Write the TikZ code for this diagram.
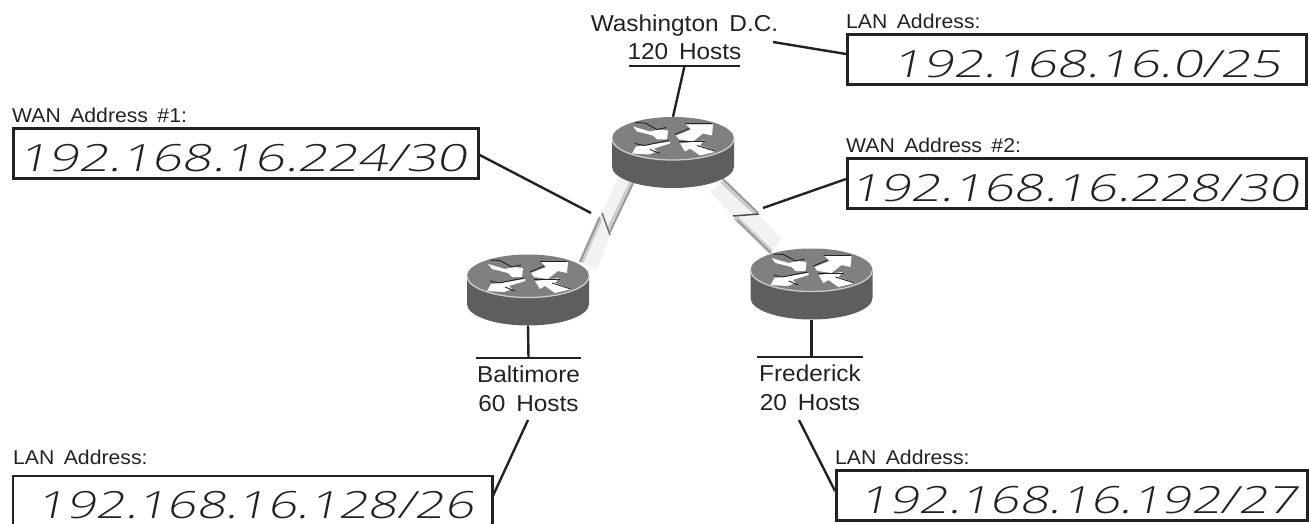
\documentclass[tikz,border=0pt]{standalone}
\usepackage{fontspec}
\usepackage{xcolor}
\usepackage{tikz}
\usetikzlibrary{positioning}
\setmainfont{Liberation Sans}
\newfontfamily\tagfont[FakeStretch=1.06,WordSpace=1.6]{Liberation Sans}
\newfontfamily\addrfont[FakeStretch=1.41,FakeSlant=0.2]{Open Sans Light}
\newfontfamily\addrnarrow[FakeStretch=1.375,FakeSlant=0.2]{Open Sans Light}
\definecolor{inkline}{HTML}{222222}
\definecolor{routertop}{HTML}{808080}
\definecolor{routerside}{HTML}{5E5E5E}
\definecolor{routerrim}{HTML}{CCCCCC}

\tikzset{
  wire/.style={line width=2.4pt, color=inkline},
  frame/.style={line width=2.7pt, color=inkline},
  router/.style={minimum width=122pt, minimum height=71pt, inner sep=0pt},
  addrtext/.style={anchor=north west, inner sep=0pt, text height=37pt, text depth=0pt, text=inkline},
  addrbox/.style={addrtext, draw=inkline, line width=2.7pt, minimum height=50pt,
    font=\addrfont\fontsize{37.5pt}{40pt}\selectfont},
  tag/.style={inner sep=0pt, text depth=0pt, text=inkline, font=\tagfont\fontsize{20pt}{24pt}\selectfont},
  site/.style={inner sep=0pt, align=center, text=inkline, font=\tagfont\fontsize{23pt}{28.5pt}\selectfont},
  linkband/.style={fill=black!5},
  linkedge/.style={line width=5pt, color=black!20},
  linkcore/.style={line width=1.6pt, color=black!42},
  linkbolt/.style={line width=1.5pt, color=black!55},
  pics/routerdisc/.style={code={
    \begin{scope}[shift={(0,-14)}]
    \fill[routerside] (-61,0) -- (-61,28) arc[start angle=180,end angle=360,x radius=61pt,y radius=21.5pt] -- (61,0) -- cycle;
    \fill[routertop] (0,0) ellipse[x radius=61pt,y radius=21.5pt];
    \draw[routerrim, line width=1.3pt] (-61,0) arc[start angle=180,end angle=360,x radius=61pt,y radius=21.5pt];
    \fill[white] (-40,-12) -- (-23,-7) -- (-14,-9) -- (-5,-8) -- (-6,1) -- (-16,1) -- (-20,-3) -- (-36,-7) -- cycle;
    \fill[white] (-41,15) -- (-37,8) -- (-29,7) -- (-3,3) -- (-3,5) -- (-19,10) -- (-16,13) -- (-24,16) -- cycle;
    \fill[white] (3,-3) -- (18,-9) -- (13,-14) -- (40,-14) -- (39,-3) -- (30,-5) -- (20,3) -- (6,1) -- cycle;
    \fill[white] (7,5) -- (31,2) -- (27,7) -- (44,13) -- (27,17) -- (17,10) -- (12,13) -- cycle;
    \draw[inkline, line width=0.9pt] (-38,-16) -- (-28,-15.5) -- (-16,-9) -- (-7,-11);
    \draw[inkline, line width=0.9pt] (-38,5) -- (-29,7) -- (-4,2);
    \draw[inkline, line width=0.9pt] (-23,11) -- (-13,15);
    \draw[inkline, line width=0.9pt] (12,-15) -- (39,-15);
    \draw[inkline, line width=0.9pt] (2,-4) -- (16,-10);
    \draw[inkline, line width=0.9pt] (6,3) -- (32,3);
    \draw[inkline, line width=0.9pt] (24,7) -- (43,13);
    \end{scope}
  }}
}

\begin{document}
\begin{tikzpicture}[x=1pt, y=-1pt]
\useasboundingbox (0,0) rectangle (1309,524);

\fill[linkband] (618,177) -- (635,183) -- (610,235) -- (602,213) -- cycle;
\fill[linkband] (602,213) -- (610,235) -- (597,270) -- (580,263) -- cycle;
\draw[linkedge] (632,182) -- (609,230);
\draw[linkedge] (600,219) -- (581,262);
\draw[linkcore] (633,183) -- (610,232);
\draw[linkcore] (600,217) -- (580,262);
\draw[linkbolt] (602,213) -- (610,235);
\fill[linkband] (710,192) -- (723,179) -- (759,214) -- (733,216) -- cycle;
\fill[linkband] (733,216) -- (759,214) -- (782,239) -- (770,253) -- cycle;
\draw[linkedge] (722,181) -- (757,214);
\draw[linkedge] (735,217) -- (771,252);
\draw[linkcore] (723,179) -- (758,213);
\draw[linkcore] (737,220) -- (771,253);
\draw[linkbolt, color=black!70] (733,216) -- (759,214);

\node[router] (wash) at (673,152.5) {};
\node[router] (balt) at (528,290) {};
\node[router] (fred) at (811.5,284) {};
\pic at (wash) {routerdisc};
\pic at (balt) {routerdisc};
\pic at (fred) {routerdisc};

\node[addrbox, minimum width=459pt] (lanW) at (846,33) {\hspace*{20pt}192.168.16.0/25};
\node[addrbox, minimum width=459pt] (wanB) at (846,157) {\hspace*{-5pt}192.168.16.228/30};
\node[addrbox, minimum width=465pt] (wanA) at (12,127) {\hspace*{-7pt}192.168.16.224/30};
\node[addrtext, minimum width=479pt, minimum height=48pt, font=\addrnarrow\fontsize{37.5pt}{40pt}\selectfont] (lanB) at (13,476) {\hspace*{5pt}192.168.16.128/26};
\node[addrbox, minimum width=471pt, font=\addrnarrow\fontsize{37.5pt}{40pt}\selectfont] (lanF) at (835,469) {\hspace*{13pt}192.168.16.192/27};
\draw[frame] (lanB.south west) -- (lanB.north west) -- (lanB.north east) -- (lanB.south east);

\node[tag] (lanWtag) [above right=4pt and 0pt of lanW.north west] {LAN Address:};
\node[tag] (wanBtag) [above right=4pt and 0pt of wanB.north west] {WAN Address \#2:};
\node[tag] (wanAtag) [above right=4pt and 0pt of wanA.north west] {WAN Address \#1:};
\node[tag] (lanBtag) [above right=11pt and 0pt of lanB.north west] {LAN Address:};
\node[tag] (lanFtag) [above right=4pt and 0pt of lanF.north west] {LAN Address:};

\coordinate (washbar) at (684.5,66);
\coordinate (baltbar) at (528.5,358);
\coordinate (fredbar) at (810,357);

\node[site] (washname) [above=6pt of washbar] {Washington D.C.\\120 Hosts};
\node[site] (baltname) [below=8pt of baltbar] {Baltimore\\60 Hosts};
\node[site] (fredname) [below=8pt of fredbar] {Frederick\\20 Hosts};

\draw[wire] ([xshift=-55.5pt]washbar) -- ([xshift=55.5pt]washbar);
\draw[wire] ([xshift=-52.5pt]baltbar) -- ([xshift=52.5pt]baltbar);
\draw[wire] ([xshift=-53pt]fredbar) -- ([xshift=53pt]fredbar);

\draw[wire] (washbar) -- (wash.north);
\draw[wire] (balt.south) -- (baltbar);
\draw[wire] (fred.south) -- (fred.south |- fredbar);

\coordinate (washtap) at (773,42);
\coordinate (wanAtap) at (591,213);
\coordinate (wanBtap) at (763,208);
\coordinate (balttap) at (528,420);
\coordinate (fredtap) at (799,420);

\draw[wire] (washtap) -- (lanW.west |- 0,54);
\draw[wire] (wanA.east |- 0,155) -- (wanAtap);
\draw[wire] (wanB.west |- 0,179) -- (wanBtap);
\draw[wire] (balttap) -- (lanB.east |- 0,497);
\draw[wire] (fredtap) -- (lanF.west |- 0,491);

\end{tikzpicture}
\end{document}
